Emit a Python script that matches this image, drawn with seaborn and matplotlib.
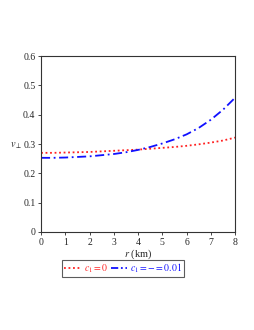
import pandas as pd
import matplotlib
matplotlib.use("Agg")
import matplotlib.pyplot as plt
import seaborn as sns

# values
r_km = [0, 0.5, 1, 1.5, 2, 2.5, 3, 3.5, 4, 4.5, 5, 5.5, 6, 6.5, 7, 7.5, 8]
v_c0 = [0.270, 0.270, 0.271, 0.272, 0.273, 0.275, 0.277, 0.279, 0.281,
        0.284, 0.287, 0.290, 0.294, 0.299, 0.305, 0.312, 0.322]
v_c1 = [0.253, 0.253, 0.254, 0.256, 0.258, 0.262, 0.266, 0.272, 0.280,
        0.290, 0.302, 0.316, 0.333, 0.355, 0.383, 0.417, 0.458]
labels = ["$c_1 = 0$", "$c_1 = -= 0.01$"]
colors = ["#ff2020", "#1010ff"]

sns.set_style("ticks")
plt.rcParams["font.family"] = ["Liberation Serif", "DejaVu Serif"]
plt.rcParams["mathtext.fontset"] = "stix"

df = pd.DataFrame({"r": r_km * 2,
                   "v": v_c0 + v_c1,
                   "case": [labels[0]] * len(r_km) + [labels[1]] * len(r_km)})

fig = plt.figure(figsize=(2.55, 3.3), dpi=100)
ax = fig.add_axes([0.161, 0.297, 0.761, 0.533])

sns.lineplot(data=df, x="r", y="v", hue="case", style="case",
             palette=colors, dashes=[(1, 1.5), (5, 2, 1, 2)],
             linewidth=1.3, ax=ax, legend=False)

ax.set_xlim(0, 8)
ax.set_ylim(0, 0.6)
ax.set_xticks(range(0, 9))
ax.set_yticks([0, 0.1, 0.2, 0.3, 0.4, 0.5, 0.6])
ax.set_yticklabels(["0", "0.1", "0.2", "0.3", "0.4", "0.5", "0.6"])
ax.tick_params(labelsize=7, length=2, width=0.6, pad=2)
for s in ax.spines.values():
    s.set_linewidth(0.8)
    s.set_color("#333333")

ax.set_xlabel("$r$ (km)", fontsize=7.5, labelpad=1)
ax.set_ylabel(r"$v_{\perp}$", fontsize=7.5, rotation=0, labelpad=6)
ax.yaxis.set_label_coords(-0.13, 0.46)

handles = [plt.Line2D([], [], color=colors[0], ls=(0, (1, 1.5)), lw=1.3),
           plt.Line2D([], [], color=colors[1], ls=(0, (4, 1.5, 1, 1.5)), lw=1.3)]
leg = fig.legend(handles, labels, loc="center", bbox_to_anchor=(0.483, 0.187),
                 ncol=2, fontsize=7, frameon=True, fancybox=False,
                 handlelength=1.7, handletextpad=0.3, columnspacing=0.3,
                 borderpad=0.2, borderaxespad=0.2)
leg.get_frame().set_edgecolor("#333333")
leg.get_frame().set_linewidth(0.8)
for t, c in zip(leg.get_texts(), colors):
    t.set_color(c)

fig.savefig("out.png", dpi=100)
